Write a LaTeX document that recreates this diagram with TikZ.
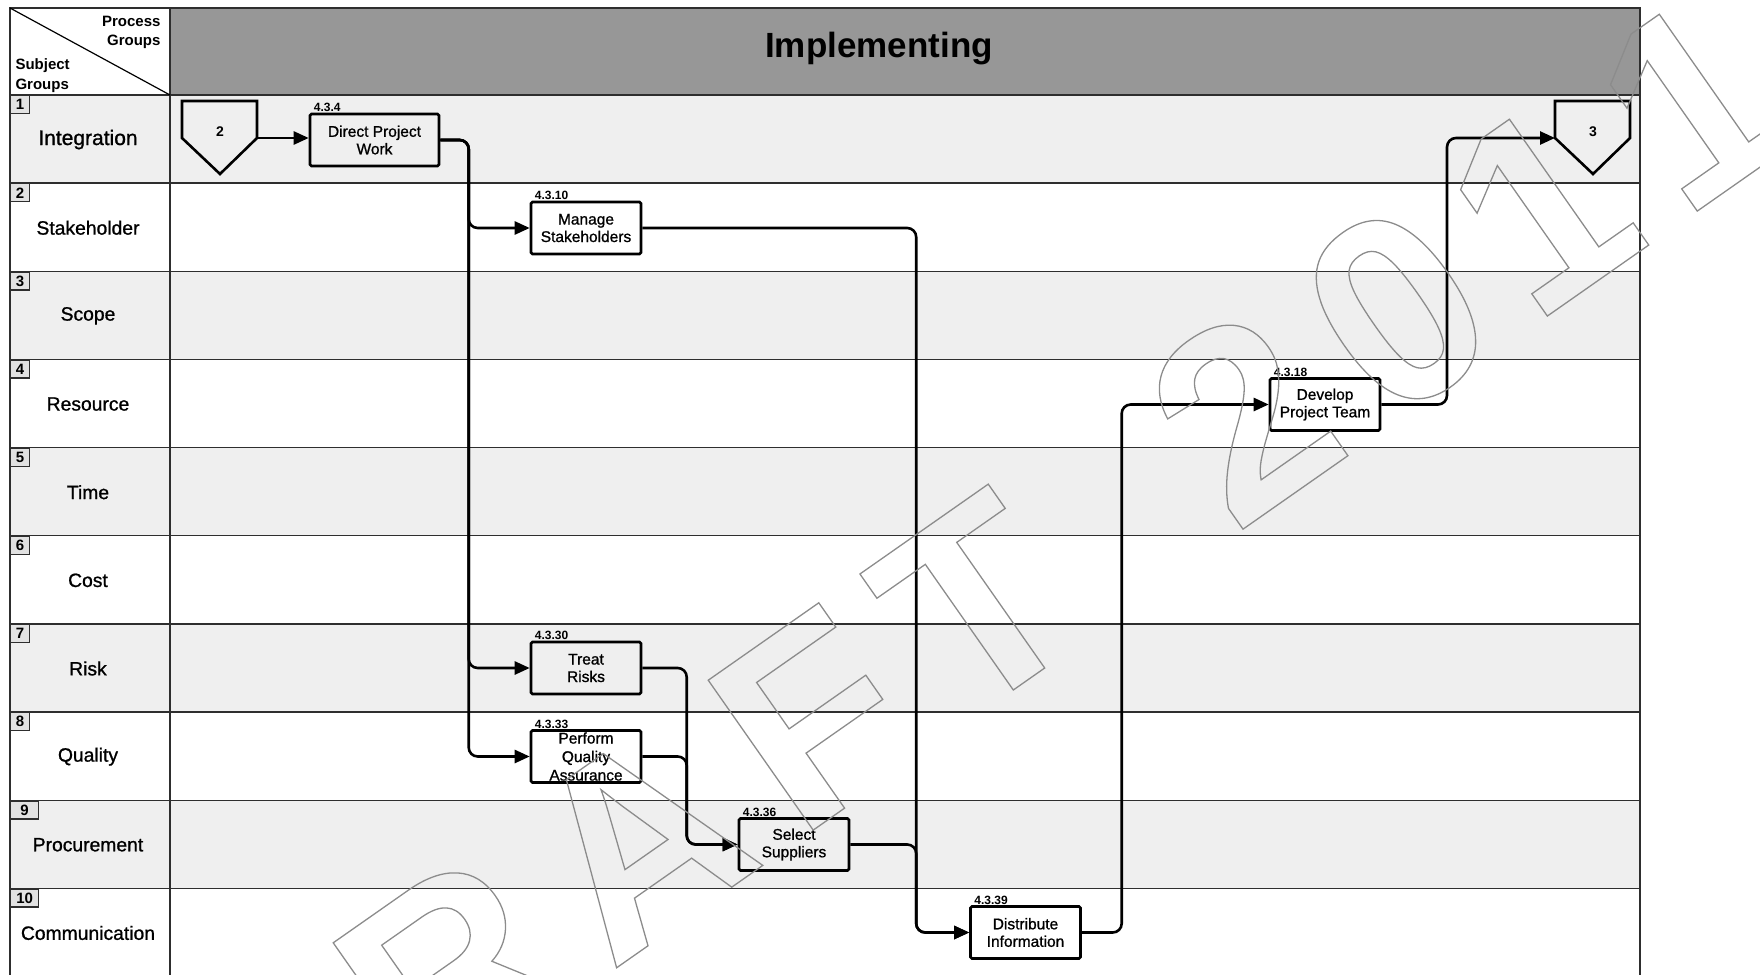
\documentclass[tikz,border=0pt]{standalone}
\usepackage{fontspec}
\setmainfont{Liberation Sans}
\newfontfamily\plainfont{Liberation Sans}[FakeBold=1]
\usetikzlibrary{arrows.meta,calc}
\definecolor{lanegrey}{HTML}{EFEFEF}
\definecolor{headgrey}{HTML}{979797}
\definecolor{rulegrey}{HTML}{2E2E2E}
\definecolor{wmgrey}{HTML}{8C8C8C}
\definecolor{nogrey}{HTML}{E2E2E2}
\newcommand\wmfont{\bfseries\fontsize{266}{266}\selectfont\special{pdf:literal direct 0.55 0.55 0.55 RG 1.3 w 1 Tr}}

\tikzset{
  rule/.style={draw=rulegrey, line width=1.6pt},
  proc/.style={draw, line width=2.6pt, rounded corners=1.5pt, minimum width=110pt, minimum height=52pt, inner sep=0pt, align=center, font=\plainfont\fontsize{15.5}{17.5}\selectfont},
  procbody/.style={align=center, inner sep=0pt, font=\plainfont\fontsize{15.5}{18.5}\selectfont},
  procno/.style={anchor=base west, xshift=5pt, yshift=1.2pt, inner sep=0pt, font=\bfseries\fontsize{12}{12}\selectfont},
  flow/.style={line width=2.6pt, rounded corners=9pt, -{Triangle[length=15pt,width=13pt]}},
  pent/.style={line width=2.6pt, line join=miter},
  subj/.style={inner sep=0pt},
  rowno/.style={draw=rulegrey, fill=nogrey, line width=1.3pt, anchor=north west, inner sep=0pt, minimum height=18pt, font=\bfseries\fontsize{15}{15}\selectfont},
  wm/.style={anchor=base, inner sep=0pt, rotate=35, text=wmgrey, font=\wmfont}
}

\begin{document}
\begin{tikzpicture}[x=1pt,y=-1pt]
\useasboundingbox (0,0) rectangle (1760,974);
\clip (0,0) rectangle (1760,974);
\fill[headgrey] (170,8) rectangle (1640,95);
\foreach \i in {1,3,5,7,9}
  \fill[lanegrey] (10,{95+88.15*(\i-1)}) rectangle (1640,{95+88.15*\i});
\foreach \i in {1,...,9}
  \draw[rule, line width=1.4pt] (10,{95+88.15*\i}) -- (1640,{95+88.15*\i});
\draw[rule] (10,980) |- (1640,8) -- (1640,980);
\draw[rule] (10,95) -- (1640,95);
\draw[rule] (170,8) -- (170,980);
\draw[line width=1.2pt] (10,8) -- (170,95);

\node[font=\bfseries\fontsize{35}{35}\selectfont, anchor=base] (phase) at (879,58) {Implementing};
\node[font=\bfseries\fontsize{15}{19.5}\selectfont, align=right, anchor=east] (pgrp) at (164,32.5) {Process\\Groups};
\node[font=\bfseries\fontsize{15}{19.5}\selectfont, align=left, anchor=west] (sgrp) at (12,75.5) {Subject\\Groups};

\foreach \i/\subj/\fs/\nw in {1/Integration/21/19, 2/Stakeholder/19.3/19, 3/Scope/19.3/19, 4/Resource/19.3/19, 5/Time/19.3/19, 6/Cost/19.3/19, 7/Risk/19.3/19, 8/Quality/19.3/19, 9/Procurement/19.3/28, 10/Communication/19.3/28} {
  \node[subj, font=\plainfont\fontsize{\fs}{\fs}\selectfont] (subj\i) at (88,{95+88.15*(\i-0.5)+0.5}) {\subj};
  \node[rowno, minimum width=\nw pt] (no\i) at (10,{95+88.15*(\i-1)}) {\i};
}

\begin{scope}[shift={(220,138)}]
  \draw[pent] (-38,-37) -- (37,-37) -- (37,0) -- (0,36) -- (-38,0) -- cycle;
  \node[font=\bfseries\fontsize{14}{14}\selectfont] (in2) at (0,-6) {2};
  \coordinate (in2out) at (37,0);
\end{scope}
\begin{scope}[shift={(1593,138)}]
  \draw[pent] (-38,-37) -- (37,-37) -- (37,0) -- (0,36) -- (-38,0) -- cycle;
  \node[font=\bfseries\fontsize{14}{14}\selectfont] (out3n) at (0,-6) {3};
  \coordinate (out3) at (-38,0);
\end{scope}

\node[proc, minimum width=129pt, label={[procno]north west:4.3.4}] (dpw) at (374.5,140) {Direct Project\\Work};
\node[proc, label={[procno]north west:4.3.10}] (ms) at (586,228) {Manage\\Stakeholders};
\node[proc, label={[procno]north west:4.3.30}] (tr) at (586,668) {Treat\\Risks};
\node[proc, label={[procno]north west:4.3.33}, label={[procbody]center:{Perform\\Quality\\Assurance}}] (pqa) at (586,756.5) {};
\node[proc, label={[procno]north west:4.3.36}] (ss) at (794,844.5) {Select\\Suppliers};
\node[proc, label={[procno]north west:4.3.39}] (di) at (1025.5,932.5) {Distribute\\Information};
\node[proc, label={[procno]north west:4.3.18}] (dpt) at (1325,404.5) {Develop\\Project Team};

\draw[flow] (in2out) -- (in2out -| dpw.west);
\draw[flow] (dpw.east) -| ([xshift=-61pt]ms.west) -- (ms.west);
\draw[flow] (dpw.east) -| ([xshift=-61pt]tr.west) -- (tr.west);
\draw[flow] (dpw.east) -| ([xshift=-61pt]pqa.west) -- (pqa.west);
\draw[flow] (tr.east) -| ([xshift=-51pt]ss.west) -- (ss.west);
\draw[flow] (pqa.east) -| ([xshift=-51pt]ss.west) -- (ss.west);
\draw[flow] (ms.east) -| ([xshift=-53pt]di.west) -- (di.west);
\draw[flow] (ss.east) -| ([xshift=-53pt]di.west) -- (di.west);
\draw[flow] (di.east) -| ([xshift=-147pt]dpt.west) -- (dpt.west);
\draw[flow] (dpt.east) -| ([xshift=-108pt]out3) -- (out3);

\coordinate (wmO) at (1029,679);
\foreach \ch/\s [count=\k] in {D/-872,R/-643,A/-414,F/-200,T/0,2/326,0/513,1/690,1/873}
  \node[wm] (wm\k) at ($(wmO)+(-35:\s)$) {\ch};
\end{tikzpicture}
\end{document}
